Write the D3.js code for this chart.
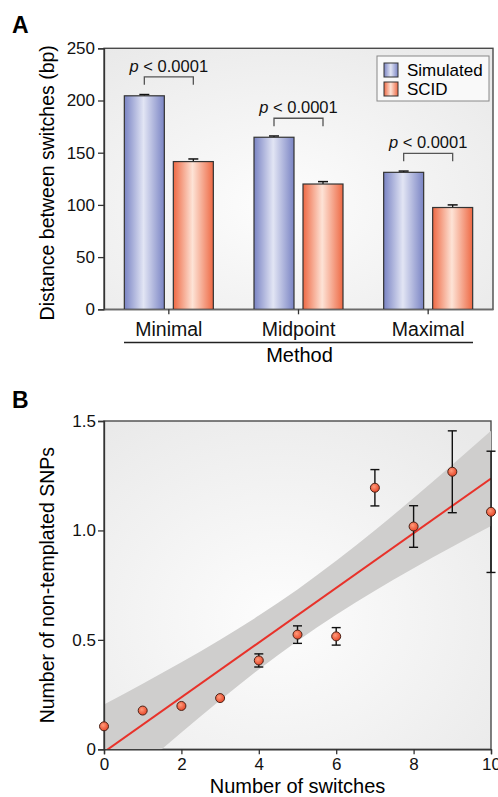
<!DOCTYPE html>
<html>
<head>
<meta charset="utf-8">
<script src="https://cdn.jsdelivr.net/npm/d3@7/dist/d3.min.js"></script>
<style>
  html, body { margin: 0; padding: 0; background: #fff; }
  svg { display: block; font-family: "Liberation Sans", Arial, sans-serif; }
  .axis text { font-family: "Liberation Sans", Arial, sans-serif; font-size: 17px; fill: #111; }
  .axis path, .axis line { stroke: #333; stroke-width: 1.3; }
</style>
</head>
<body>
<svg id="chart" width="498" height="797"></svg>
<script>
// ---- panel A data
const methods = ["Minimal", "Midpoint", "Maximal"];
const groups = ["Simulated", "SCID"];
const simMean = [204.5, 164.8, 131.2];
const simErr = [1.2, 1.2, 1.2];
const scidMean = [141.5, 120.0, 97.5];
const scidErr = [2.5, 2.3, 2.5];
const pLabels = ["0.0001", "0.0001", "0.0001"];
const yTicksA = [0, 50, 100, 150, 200, 250];

// ---- panel B data
const switches = [0, 1, 2, 3, 4, 5, 6, 7, 8, 9, 10];
const snpMean = [0.105, 0.177, 0.198, 0.234, 0.406, 0.524, 0.516, 1.195, 1.018, 1.268, 1.085];
const snpErr = [0, 0, 0, 0, 0.03, 0.04, 0.04, 0.083, 0.095, 0.187, 0.277];
const fitX = [0, 10];
const fitY = [-0.0125, 1.2375];
const bandX = [0, 1, 2, 3, 4, 5, 6, 7, 8, 9, 10];
const bandUpper = [0.205, 0.300, 0.398, 0.501, 0.611, 0.730, 0.861, 1.001, 1.148, 1.300, 1.455];
const bandLower = [-0.230, -0.075, 0.077, 0.224, 0.365, 0.495, 0.615, 0.724, 0.827, 0.925, 1.020];
const xTicksB = [0, 2, 4, 6, 8, 10];
const yTicksB = [0, 0.5, 1.0, 1.5];

const svg = d3.select('#chart');
const defs = svg.append('defs');

// gradients
const bgGrad = defs.append('radialGradient').attr('id', 'bg')
  .attr('cx', '45%').attr('cy', '60%').attr('r', '75%');
bgGrad.append('stop').attr('offset', '0%').attr('stop-color', '#fdfdfd');
bgGrad.append('stop').attr('offset', '100%').attr('stop-color', '#e9e9e9');

const barGrad = (id, edge, mid) => {
  const g = defs.append('linearGradient').attr('id', id)
    .attr('x1', '0%').attr('x2', '100%').attr('y1', '0%').attr('y2', '0%');
  g.append('stop').attr('offset', '0%').attr('stop-color', edge);
  g.append('stop').attr('offset', '48%').attr('stop-color', mid);
  g.append('stop').attr('offset', '100%').attr('stop-color', edge);
};
barGrad('gSim', '#7a84c4', '#e2e5f4');
barGrad('gScid', '#ee6944', '#fde3d6');

const ptGrad = defs.append('radialGradient').attr('id', 'gPt')
  .attr('cx', '40%').attr('cy', '38%').attr('r', '60%');
ptGrad.append('stop').attr('offset', '0%').attr('stop-color', '#ff9a7a');
ptGrad.append('stop').attr('offset', '100%').attr('stop-color', '#e84a2c');

// ================= Panel A =================
const A = { left: 104, right: 493, top: 48.3, bottom: 309.3 };

const x0 = d3.scaleBand().domain(methods).range([A.left, A.right]);
const barW = 40, barGap = 9;
const yA = d3.scaleLinear().domain([0, 250]).range([A.bottom, A.top]);

svg.append('text').attr('x', 12).attr('y', 33)
  .attr('font-size', 23).attr('font-weight', 'bold').text('A');

svg.append('rect').attr('x', A.left).attr('y', A.top)
  .attr('width', A.right - A.left).attr('height', A.bottom - A.top)
  .attr('fill', 'url(#bg)').attr('stroke', '#4a4a4a').attr('stroke-width', 1.4);

const barData = [];
methods.forEach((m, i) => {
  barData.push({ m, g: 0, v: simMean[i], e: simErr[i] });
  barData.push({ m, g: 1, v: scidMean[i], e: scidErr[i] });
});
const barX = d => x0(d.m) + x0.bandwidth() / 2 + (d.g === 0 ? -barGap / 2 - barW : barGap / 2);

// error bars (up only)
const eb = svg.append('g');
eb.selectAll('line.v').data(barData).join('line')
  .attr('x1', d => barX(d) + barW / 2).attr('x2', d => barX(d) + barW / 2)
  .attr('y1', d => yA(d.v)).attr('y2', d => yA(d.v + d.e))
  .attr('stroke', '#111').attr('stroke-width', 1.3);
eb.selectAll('line.c').data(barData).join('line')
  .attr('x1', d => barX(d) + barW / 2 - 5).attr('x2', d => barX(d) + barW / 2 + 5)
  .attr('y1', d => yA(d.v + d.e)).attr('y2', d => yA(d.v + d.e))
  .attr('stroke', '#111').attr('stroke-width', 1.5);

svg.append('g').selectAll('rect').data(barData).join('rect')
  .attr('x', barX).attr('width', barW)
  .attr('y', d => yA(d.v)).attr('height', d => yA(0) - yA(d.v))
  .attr('fill', d => d.g === 0 ? 'url(#gSim)' : 'url(#gScid)')
  .attr('stroke', '#333').attr('stroke-width', 1.2);

// p-value brackets
methods.forEach((m, i) => {
  const xa = x0(m) + x0.bandwidth() / 2 - barGap / 2 - barW / 2;
  const xb = x0(m) + x0.bandwidth() / 2 + barGap / 2 + barW / 2;
  const yb = yA(simMean[i]) - 11;
  svg.append('path')
    .attr('d', `M${xa},${yb} V${yb - 8} H${xb} V${yb}`)
    .attr('fill', 'none').attr('stroke', '#555').attr('stroke-width', 1.3);
  const t = svg.append('text').attr('x', (xa + xb) / 2).attr('y', yb - 13)
    .attr('text-anchor', 'middle').attr('font-size', 16.5).attr('fill', '#111');
  t.append('tspan').attr('font-style', 'italic').text('p');
  t.append('tspan').text(' < ' + pLabels[i]);
});

// axes A
const axA = svg.append('g').attr('class', 'axis')
  .attr('transform', `translate(${A.left},0)`)
  .call(d3.axisLeft(yA).tickValues(yTicksA).tickSize(6).tickPadding(3));
axA.select('.domain').attr('stroke', '#222');

const axAB = svg.append('g').attr('class', 'axis')
  .attr('transform', `translate(0,${A.bottom})`)
  .call(d3.axisBottom(x0).tickSizeInner(5).tickSizeOuter(0).tickPadding(5));
axAB.select('.domain').style('stroke', '#777');
axAB.selectAll('text').style('font-size', '19.5px').attr('dy', '0.85em');

svg.append('line').attr('x1', x0(methods[0]) + 20).attr('x2', x0(methods[2]) + x0.bandwidth() - 20)
  .attr('y1', 342.5).attr('y2', 342.5).attr('stroke', '#222').attr('stroke-width', 1.3);
svg.append('text').attr('x', (A.left + A.right) / 2 + 1).attr('y', 362)
  .attr('text-anchor', 'middle').attr('font-size', 20).text('Method');

svg.append('text')
  .attr('transform', `translate(54,${(A.top + A.bottom) / 2 + 4}) rotate(-90)`)
  .attr('text-anchor', 'middle').attr('font-size', 19.5)
  .text('Distance between switches (bp)');

// legend
const lg = svg.append('g').attr('transform', 'translate(377,56)');
lg.append('rect').attr('width', 112).attr('height', 45)
  .attr('fill', '#f9f9f9').attr('stroke', '#888').attr('stroke-width', 1);
groups.forEach((g, i) => {
  lg.append('rect').attr('x', 7).attr('y', 7 + i * 19).attr('width', 14).attr('height', 14)
    .attr('fill', i === 0 ? 'url(#gSim)' : 'url(#gScid)')
    .attr('stroke', '#333').attr('stroke-width', 1);
  lg.append('text').attr('x', 30).attr('y', 20 + i * 19)
    .attr('font-size', 17).text(g);
});

// ================= Panel B =================
const B = { left: 104, right: 491, top: 421, bottom: 749.3 };
const xB = d3.scaleLinear().domain([0, 10]).range([B.left, B.right]);
const yB = d3.scaleLinear().domain([0, 1.5]).range([B.bottom, B.top]);

svg.append('text').attr('x', 12).attr('y', 408)
  .attr('font-size', 23).attr('font-weight', 'bold').text('B');

svg.append('rect').attr('x', B.left).attr('y', B.top)
  .attr('width', B.right - B.left).attr('height', B.bottom - B.top)
  .attr('fill', 'url(#bg)').attr('stroke', '#4a4a4a').attr('stroke-width', 1.4);

defs.append('clipPath').attr('id', 'clipB').append('rect')
  .attr('x', B.left).attr('y', B.top)
  .attr('width', B.right - B.left).attr('height', B.bottom - B.top);

const plotB = svg.append('g').attr('clip-path', 'url(#clipB)');
const bandPts = bandX.map((x, i) => ({ x, u: bandUpper[i], l: bandLower[i] }));
plotB.append('path').datum(bandPts)
  .attr('d', d3.area().curve(d3.curveMonotoneX)
    .x(d => xB(d.x)).y0(d => yB(d.l)).y1(d => yB(d.u)))
  .attr('fill', '#cfcecd');
plotB.append('path').datum(fitX.map((x, i) => [x, fitY[i]]))
  .attr('d', d3.line().x(d => xB(d[0])).y(d => yB(d[1])))
  .attr('stroke', '#e8322a').attr('stroke-width', 2).attr('fill', 'none');

// axes B
const axBL = svg.append('g').attr('class', 'axis')
  .attr('transform', `translate(${B.left},0)`)
  .call(d3.axisLeft(yB).tickValues(yTicksB).tickSize(6).tickPadding(2)
    .tickFormat(d => d === 0 ? '0' : d3.format('.1f')(d)));
axBL.select('.domain').attr('stroke', '#222');

const axBB = svg.append('g').attr('class', 'axis')
  .attr('transform', `translate(0,${B.bottom})`)
  .call(d3.axisBottom(xB).tickValues(xTicksB).tickSize(5).tickPadding(4));
axBB.select('.domain').attr('stroke', '#222');

svg.append('text').attr('x', (B.left + B.right) / 2).attr('y', 793)
  .attr('text-anchor', 'middle').attr('font-size', 20).text('Number of switches');
svg.append('text')
  .attr('transform', `translate(54,${(B.top + B.bottom) / 2}) rotate(-90)`)
  .attr('text-anchor', 'middle').attr('font-size', 19.5)
  .text('Number of non-templated SNPs');

// points + error bars
const pts = switches.map((x, i) => ({ x, y: snpMean[i], e: snpErr[i] }));
const ebB = svg.append('g').selectAll('g').data(pts.filter(d => d.e > 0)).join('g');
ebB.append('line')
  .attr('x1', d => xB(d.x)).attr('x2', d => xB(d.x))
  .attr('y1', d => yB(d.y - d.e)).attr('y2', d => yB(d.y + d.e))
  .attr('stroke', '#111').attr('stroke-width', 1.4);
[-1, 1].forEach(s => {
  ebB.append('line')
    .attr('x1', d => xB(d.x) - 4.5).attr('x2', d => xB(d.x) + 4.5)
    .attr('y1', d => yB(d.y + s * d.e)).attr('y2', d => yB(d.y + s * d.e))
    .attr('stroke', '#111').attr('stroke-width', 1.4);
});
svg.append('g').selectAll('circle').data(pts).join('circle')
  .attr('cx', d => xB(d.x)).attr('cy', d => yB(d.y)).attr('r', 4.5)
  .attr('fill', 'url(#gPt)').attr('stroke', '#4a2318').attr('stroke-width', 1);
</script>
</body>
</html>
